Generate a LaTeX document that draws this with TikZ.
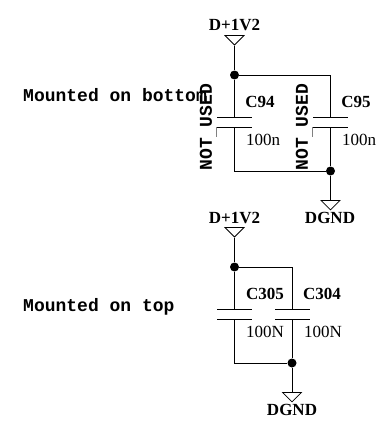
\documentclass[tikz,border=0pt]{standalone}
\usepackage{fontspec}
\setmainfont{Liberation Serif}
\setmonofont{Liberation Mono}
\usetikzlibrary{shapes.geometric}

\begin{document}
\begin{tikzpicture}[x=1pt,y=-1pt]
				\tikzstyle{every node}=[inner sep=0pt]
				\tikzstyle{wire}=[line width=1pt]
				\tikzstyle{dot}=[fill=black,circle,minimum size=9pt]
				\tikzstyle{plate}=[fill=black,minimum width=35pt,minimum height=1pt]
				\tikzstyle{rail}=[draw,line width=0.8pt,isosceles triangle,isosceles triangle stretches,
				shape border rotate=270,minimum width=19pt,minimum height=9.5pt,anchor=apex]
				\tikzstyle{refdes}=[font=\fontsize{17}{17}\selectfont\bfseries]
				\tikzstyle{capval}=[font=\fontsize{17}{17}\selectfont]
				\tikzstyle{note}=[font=\fontsize{18}{18}\selectfont\ttfamily\bfseries]
				\useasboundingbox (0,0) rectangle (382,428);

				% mounted on bottom
				\node[note,anchor=west] (bottomnote) at (23,95) {Mounted on bottom};
				\node[refdes] (vcca) at (234.5,25) {D+1V2};
				\node[rail] (vccatri) at (234.5,46) {};
				\node[dot] (vccadot) at (234.5,75) {};
				\node[dot] (gndadot) at (330.5,171) {};
				\node[rail,anchor=lower side,shape border rotate=270] (gndatri) at (330.5,200) {};
				\node[refdes] (gnda) at (330,218) {DGND};
				\coordinate (vccacorner) at (330.5,75);
				\coordinate (gndacorner) at (234.5,171);
				\node[plate] (c94top) at (234.5,117.5) {};
				\node[plate] (c94bot) at (234.5,127) {};
				\node[plate] (c95top) at (330.5,117.5) {};
				\node[plate] (c95bot) at (330.5,127) {};
				\node[refdes] (c94) at (260,102) {C94};
				\node[capval] (c94val) at (263,140) {100n};
				\node[refdes] (c95) at (356,102) {C95};
				\node[capval] (c95val) at (359,140) {100n};
				\node[note,rotate=90] (c94nu) at (206,127) {NOT USED};
				\node[note,rotate=90] (c95nu) at (302,127) {NOT USED};
				\coordinate (c94ticka) at (216,127);
				\coordinate (c94tickb) at (216,137);
				\coordinate (c95ticka) at (312,127);
				\coordinate (c95tickb) at (312,137);
				\draw[wire] (vccatri.apex) -- (vccadot) -- (c94top);
				\draw[wire] (vccadot) -- (vccacorner) -- (c95top);
				\draw[wire] (c94bot) -- (gndacorner) -- (gndadot);
				\draw[wire] (c95bot) -- (gndadot) -- (gndatri.lower side);
				\draw[gray,wire] (c94ticka) -- (c94tickb);
				\draw[gray,wire] (c95ticka) -- (c95tickb);

				% mounted on top
				\node[note,anchor=west] (topnote) at (23,307) {Mounted on top};
				\node[refdes] (vccb) at (234.5,218) {D+1V2};
				\node[rail] (vccbtri) at (234.5,238) {};
				\node[dot] (vccbdot) at (234.5,267) {};
				\node[dot] (gndbdot) at (292,363) {};
				\node[rail,anchor=lower side] (gndbtri) at (292,392) {};
				\node[refdes] (gndb) at (292,410) {DGND};
				\coordinate (vccbcorner) at (292,267);
				\coordinate (gndbcorner) at (234.5,363);
				\node[plate] (c305top) at (234.5,309.5) {};
				\node[plate] (c305bot) at (234.5,319) {};
				\node[plate] (c304top) at (292,309.5) {};
				\node[plate] (c304bot) at (292,319) {};
				\node[refdes] (c305) at (265,294) {C305};
				\node[capval] (c305val) at (265,332) {100N};
				\node[refdes] (c304) at (322,294) {C304};
				\node[capval] (c304val) at (323,332) {100N};
				\draw[wire] (vccbtri.apex) -- (vccbdot) -- (c305top);
				\draw[wire] (vccbdot) -- (vccbcorner) -- (c304top);
				\draw[wire] (c305bot) -- (gndbcorner) -- (gndbdot);
				\draw[wire] (c304bot) -- (gndbdot) -- (gndbtri.lower side);
\end{tikzpicture}
\end{document}
